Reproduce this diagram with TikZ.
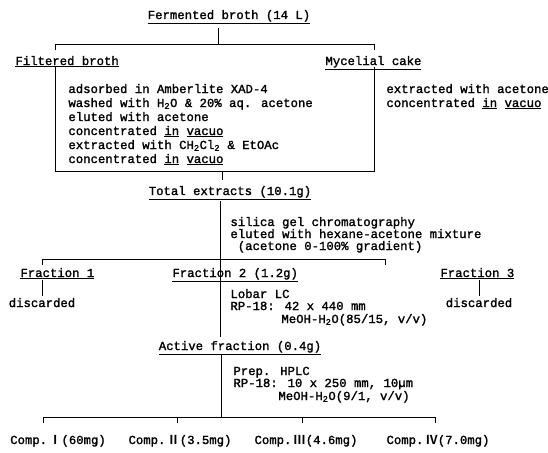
\documentclass[tikz,border=0pt]{standalone}
\usepackage{fontspec}
\newfontfamily\mono{Liberation Mono}[FakeBold=1.6]
\newfontfamily\cjk{Noto Sans CJK JP Bold}
\begin{document}
\begin{tikzpicture}[x=1pt,y=-1pt,
  line width=0.9pt,
  txt/.style={inner sep=0pt, font=\fontsize{12.3pt}{14pt}\mono\selectfont},
  lbl/.style={txt, anchor=base west},
  ctr/.style={txt, anchor=base}]
\useasboundingbox[fill=white] (0,0) rectangle (548,452);

% top
\node[ctr] (fb) at (229,19) {\underline{Fermented broth (14 L)}};
\coordinate (t0) at (218,28); \coordinate (t1) at (218,44);
\coordinate (hl) at (55,44); \coordinate (hr) at (374,44);
\draw (t0) -- (t1);
\draw (55,50) -- (hl) -- (hr) -- (374,50);
\node[lbl] (filt) at (15,65) {\underline{Filtered broth}};
\node[lbl] (myc) at (325,65) {\underline{Mycelial cake}};

% box
\coordinate (bl) at (55,171); \coordinate (br) at (374,171);
\draw (55,67) -- (bl) -- (br) -- (374,67);
\node[lbl] (b1) at (68,93) {adsorbed in Amberlite XAD-4};
\node[lbl] (b2) at (68,107) {washed with H\textsubscript{2}O \& 20\% aq. acetone};
\node[lbl] (b3) at (68,121) {eluted with acetone};
\node[lbl] (b4) at (68,135) {concentrated \underline{in} \underline{vacuo}};
\node[lbl] (b5) at (68,149) {extracted with CH\textsubscript{2}Cl\textsubscript{2} \& EtOAc};
\node[lbl] (b6) at (68,163) {concentrated \underline{in} \underline{vacuo}};
\node[lbl] (m1) at (386,93) {extracted with acetone};
\node[lbl] (m2) at (386,107) {concentrated \underline{in} \underline{vacuo}};

% total
\coordinate (tb) at (222,171); \coordinate (tt) at (222,180);
\draw (tb) -- (tt);
\node[ctr] (tot) at (230,195) {\underline{Total extracts (10.1g)}};
\coordinate (v3a) at (220,201); \coordinate (v3b) at (220,337);
\draw (v3a) -- (v3b);
\node[lbl] (s1) at (230,226) {silica gel chromatography};
\node[lbl] (s2) at (230,238) {eluted with hexane-acetone mixture};
\node[lbl] (s3) at (230,250) {\ (acetone 0-100\% gradient)};

% fractions
\draw (42,265) -- (42,259) -- (385,259) -- (385,265);
\node[lbl] (f1) at (20,277) {\underline{Fraction 1}};
\node[lbl] (f2) at (172,277) {\underline{Fraction 2 (1.2g)}};
\node[lbl] (f3) at (440,277) {\underline{Fraction 3}};
\coordinate (f1a) at (42,280); \coordinate (f1b) at (42,296);
\coordinate (f3a) at (479,280); \coordinate (f3b) at (479,296);
\draw (f1a) -- (f1b); \draw (f3a) -- (f3b);
\node[ctr] (d1) at (42,307) {discarded};
\node[ctr] (d3) at (479,307) {discarded};
\node[lbl] (l1) at (230,298) {Lobar LC};
\node[lbl] (l2) at (230,310) {RP-18: 42 x 440 mm};
\node[lbl] (l3) at (281,323) {MeOH-H\textsubscript{2}O(85/15, v/v)};

% active
\node[ctr] (act) at (240,350) {\underline{Active fraction (0.4g)}};
\coordinate (v4a) at (221,354); \coordinate (v4b) at (221,417);
\draw (v4a) -- (v4b);
\node[lbl] (p1) at (233,375) {Prep. HPLC};
\node[lbl] (p2) at (233,387) {RP-18: 10 x 250 mm, 10\textmu m};
\node[lbl] (p3) at (278,400) {MeOH-H\textsubscript{2}O(9/1, v/v)};

% compounds
\draw (43,423) -- (43,417) -- (435,417) -- (435,423);
\draw (177,417) -- (177,423);
\draw (302,417) -- (302,423);
\node[ctr] (c1) at (58,444) {Comp.\,{\cjk Ⅰ}(60mg)};
\node[ctr] (c2) at (180,444) {Comp.\,{\cjk Ⅱ}(3.5mg)};
\node[ctr] (c3) at (306,444) {Comp.\,{\cjk Ⅲ}(4.6mg)};
\node[ctr] (c4) at (438,444) {Comp.\,{\cjk Ⅳ}(7.0mg)};
\end{tikzpicture}
\end{document}
